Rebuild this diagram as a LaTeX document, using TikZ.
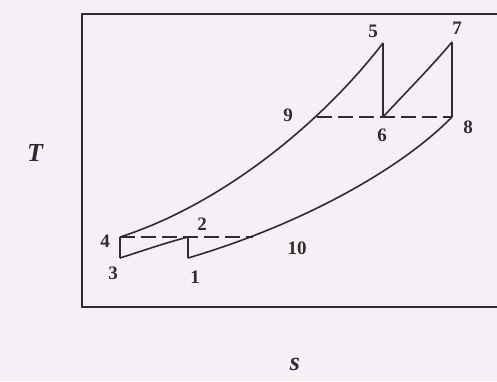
\documentclass[tikz,border=0pt]{standalone}
\usepackage{fontspec}
\setmainfont{Liberation Serif}
\usepackage{xcolor}
\usetikzlibrary{calc}
\definecolor{PaperPink}{RGB}{246,240,246}
\definecolor{InkGray}{RGB}{45,45,45}

\begin{document}
\begin{tikzpicture}[x=1pt, y=-1pt,
  frame/.style={draw=InkGray, line width=1.6pt},
  proc/.style={draw=InkGray, line width=1.6pt},
  isobar/.style={draw=InkGray, line width=1.5pt, dash pattern=on 15pt off 6pt},
  num/.style={font=\fontsize{19}{19}\selectfont\bfseries, text=InkGray, inner sep=0pt},
  axis/.style={font=\fontsize{26}{26}\selectfont\bfseries\itshape, text=InkGray, inner sep=0pt},
]
\fill[PaperPink] (0,0) rectangle (497,381);
\useasboundingbox (0,0) rectangle (497,381);
%% frame
\coordinate (ftr) at (497,14);
\coordinate (ftl) at (82,14);
\coordinate (fbl) at (82,307);
\coordinate (fbr) at (497,307);
\draw[frame] (ftr) -- (ftl) -- (fbl) -- (fbr);
%% states
\coordinate (p1) at (188,258);
\coordinate (p2) at (188,237);
\coordinate (p3) at (120,258);
\coordinate (p4) at (120,237);
\coordinate (p5) at (383,43);
\coordinate (p6) at (383,117);
\coordinate (p7) at (452,42);
\coordinate (p8) at (452,117);
\coordinate (p9) at (317,117);
\coordinate (p10) at (253,237);
%% cycle
\draw[proc] (p1) -- (p2);
\draw[proc] (p2) .. controls (165,243) and (145,250) .. (p3);
\draw[proc] (p3) -- (p4);
\draw[proc] (p4) .. controls (220,205) and (320,125) .. (p5);
\draw[proc] (p5) -- (p6);
\draw[proc] (p6) .. controls (408,90) and (432,66) .. (p7);
\draw[proc] (p7) -- (p8);
\draw[proc] (p8) .. controls (400,170) and (300,225) .. (p1);
%% constant pressure lines
\draw[isobar] (p4) -- (p10);
\draw[isobar] (p9) -- (p8);
%% labels
\node[num] (l1) at (195,277) {1};
\node[num] (l2) at (202,224) {2};
\node[num] (l3) at (113,273) {3};
\node[num] (l4) at (105,241) {4};
\node[num] (l5) at (373,31) {5};
\node[num] (l6) at (382,135) {6};
\node[num] (l7) at (457,28) {7};
\node[num] (l8) at (468,127) {8};
\node[num] (l9) at (288,115) {9};
\node[num] (l10) at (297,248) {10};
\node[axis] (tlab) at (35,153) {T};
\node[axis] (slab) at (295,364) {s};
\end{tikzpicture}
\end{document}
